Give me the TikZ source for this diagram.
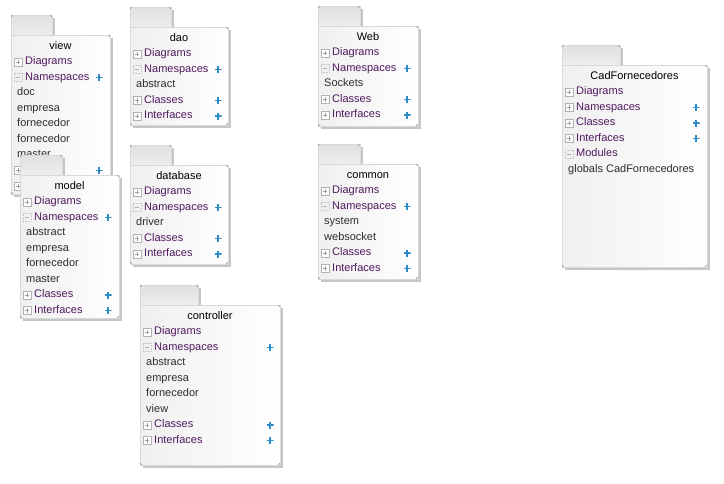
\documentclass[tikz,border=0pt]{standalone}
\usepackage{fontspec}
\setmainfont{Liberation Sans}
\definecolor{catcol}{RGB}{80,25,95}
\definecolor{itemcol}{RGB}{45,45,45}
\definecolor{pluscol}{RGB}{45,140,200}
\tikzset{
  txt/.style={inner sep=0pt, font=\fontsize{11}{13}\selectfont, anchor=west, text height=8pt, text depth=2.5pt},
  cattxt/.style={txt, text=catcol},
  itemtxt/.style={txt, text=itemcol},
  titletxt/.style={inner sep=0pt, font=\fontsize{11}{13}\selectfont, text=black, text height=8pt, text depth=2.5pt},
  iconbox/.style={draw=gray!60, fill=white, minimum size=8pt, inner sep=0pt, line width=0.6pt,
    path picture={\draw[gray!75, line width=0.6pt]
      ([xshift=1.8pt]path picture bounding box.west) -- ([xshift=-1.8pt]path picture bounding box.east)
      ([yshift=-1.8pt]path picture bounding box.north) -- ([yshift=1.8pt]path picture bounding box.south);}},
  expbox/.style={draw=gray!45, densely dotted, minimum size=8pt, inner sep=0pt, line width=0.6pt,
    path picture={\draw[gray!60, solid, line width=0.6pt]
      ([xshift=1.8pt]path picture bounding box.west) -- ([xshift=-1.8pt]path picture bounding box.east);}},
  plusmark/.style={minimum size=7pt, inner sep=0pt,
    path picture={\draw[pluscol, line width=1.7pt]
      (path picture bounding box.west) -- (path picture bounding box.east)
      (path picture bounding box.north) -- (path picture bounding box.south);}},
  pkgshadow/.style={fill=gray!45},
  pkgedge/.style={draw=gray!30, line width=0.4pt},
  cornermark/.style={draw=gray!80, line width=0.7pt}
}
% #1 id, #2 x, #3 top of body, #4 width, #5 height, #6 tab width, #7 title
\newcommand\pkg[7]{%
  \fill[pkgshadow] ({#2+#6},{#3-17}) rectangle ({#2+#6+3},{#3});
  \shade[top color=gray!24, bottom color=gray!14] (#2,{#3-20}) rectangle ({#2+#6},{#3});
  \draw[pkgedge] (#2,{#3}) -- (#2,{#3-20}) -- ({#2+#6},{#3-20}) -- ({#2+#6},{#3});
  \fill[pkgshadow] ({#2+3},{#3+#5}) rectangle ({#2+#4+3},{#3+#5+3});
  \fill[pkgshadow] ({#2+#4},{#3+3}) rectangle ({#2+#4+3},{#3+#5+3});
  \shade[left color=gray!12, right color=white] (#2,{#3}) rectangle ({#2+#4},{#3+#5});
  \draw[pkgedge] (#2,{#3}) rectangle ({#2+#4},{#3+#5});
  \draw[cornermark] (#2,{#3-18}) -- ({#2+1.5},{#3-20});
  \draw[cornermark] ({#2+#6-2},{#3-20}) -- ({#2+#6},{#3-18});
  \draw[cornermark] ({#2+#4-2},{#3}) -- ({#2+#4},{#3+2});
  \draw[cornermark] (#2,{#3+#5-2}) -- ({#2+2},{#3+#5});
  \draw[cornermark] ({#2+#4},{#3+#5-2}) -- ({#2+#4-2},{#3+#5});
  \node[titletxt] (#1-title) at ({#2+#4/2},{#3+12}) {#7};
}
% #1 name, #2 body x, #3 y, #4 label
\newcommand\rowcat[4]{%
  \node[iconbox] (#1-icon) at ({#2+7},{#3}) {};
  \node[cattxt] (#1) at ({#2+14},{#3}) {#4};}
\newcommand\rowexp[4]{%
  \node[expbox] (#1-icon) at ({#2+7},{#3}) {};
  \node[cattxt] (#1) at ({#2+14},{#3}) {#4};}
\newcommand\rowitem[4]{%
  \node[itemtxt] (#1) at ({#2+6},{#3}) {#4};}
\newcommand\rowplus[3]{%
  \node[plusmark] (#1) at ({#2},{#3}) {};}
\begin{document}
\begin{tikzpicture}[x=1pt,y=-1pt]
\fill[white] (0,0) rectangle (724,483);
\useasboundingbox (0,0) rectangle (724,483);

% ---- view ----
\pkg{view}{11}{35}{99}{159}{41}{view}
\rowcat{view-diag}{11}{62}{Diagrams}
\rowexp{view-ns}{11}{77.5}{Namespaces}\rowplus{view-nsp}{99}{77.5}
\rowitem{view-doc}{11}{93}{doc}
\rowitem{view-emp}{11}{108.5}{empresa}
\rowitem{view-forn}{11}{124}{fornecedor}
\rowitem{view-forn2}{11}{139.5}{fornecedor}
\rowitem{view-master}{11}{155}{master}
\rowcat{view-cls}{11}{170.5}{Classes}\rowplus{view-clsp}{99}{170.5}
\rowcat{view-int}{11}{186}{Interfaces}\rowplus{view-intp}{99}{186}

% ---- model ----
\pkg{model}{20}{175}{99}{143}{42}{model}
\rowcat{model-diag}{20}{202}{Diagrams}
\rowexp{model-ns}{20}{217.5}{Namespaces}\rowplus{model-nsp}{108}{217.5}
\rowitem{model-abs}{20}{233}{abstract}
\rowitem{model-emp}{20}{248.5}{empresa}
\rowitem{model-forn}{20}{264}{fornecedor}
\rowitem{model-master}{20}{279.5}{master}
\rowcat{model-cls}{20}{295}{Classes}\rowplus{model-clsp}{108}{295}
\rowcat{model-int}{20}{310.5}{Interfaces}\rowplus{model-intp}{108}{310.5}

% ---- dao ----
\pkg{dao}{130}{27}{98}{98}{41}{dao}
\rowcat{dao-diag}{130}{54}{Diagrams}
\rowexp{dao-ns}{130}{69.5}{Namespaces}\rowplus{dao-nsp}{218}{69.5}
\rowitem{dao-abs}{130}{85}{abstract}
\rowcat{dao-cls}{130}{100.5}{Classes}\rowplus{dao-clsp}{218}{100.5}
\rowcat{dao-int}{130}{116}{Interfaces}\rowplus{dao-intp}{218}{116}

% ---- database ----
\pkg{database}{130}{165}{98}{99}{41}{database}
\rowcat{db-diag}{130}{192}{Diagrams}
\rowexp{db-ns}{130}{207.5}{Namespaces}\rowplus{db-nsp}{218}{207.5}
\rowitem{db-drv}{130}{223}{driver}
\rowcat{db-cls}{130}{238.5}{Classes}\rowplus{db-clsp}{218}{238.5}
\rowcat{db-int}{130}{254}{Interfaces}\rowplus{db-intp}{218}{254}

% ---- controller ----
\pkg{controller}{140}{305}{140}{160}{58}{controller}
\rowcat{ctl-diag}{140}{332}{Diagrams}
\rowexp{ctl-ns}{140}{347.5}{Namespaces}\rowplus{ctl-nsp}{270}{347.5}
\rowitem{ctl-abs}{140}{363}{abstract}
\rowitem{ctl-emp}{140}{378.5}{empresa}
\rowitem{ctl-forn}{140}{394}{fornecedor}
\rowitem{ctl-view}{140}{409.5}{view}
\rowcat{ctl-cls}{140}{425}{Classes}\rowplus{ctl-clsp}{270}{425}
\rowcat{ctl-int}{140}{440.5}{Interfaces}\rowplus{ctl-intp}{270}{440.5}

% ---- Web ----
\pkg{web}{318}{26}{100}{100}{42}{Web}
\rowcat{web-diag}{318}{53}{Diagrams}
\rowexp{web-ns}{318}{68.5}{Namespaces}\rowplus{web-nsp}{407}{68.5}
\rowitem{web-sock}{318}{84}{Sockets}
\rowcat{web-cls}{318}{99.5}{Classes}\rowplus{web-clsp}{407}{99.5}
\rowcat{web-int}{318}{115}{Interfaces}\rowplus{web-intp}{407}{115}

% ---- common ----
\pkg{common}{318}{164}{100}{115}{42}{common}
\rowcat{com-diag}{318}{191}{Diagrams}
\rowexp{com-ns}{318}{206.5}{Namespaces}\rowplus{com-nsp}{407}{206.5}
\rowitem{com-sys}{318}{222}{system}
\rowitem{com-ws}{318}{237.5}{websocket}
\rowcat{com-cls}{318}{253}{Classes}\rowplus{com-clsp}{407}{253}
\rowcat{com-int}{318}{268.5}{Interfaces}\rowplus{com-intp}{407}{268.5}

% ---- CadFornecedores ----
\pkg{cad}{562}{65}{145}{202}{58}{CadFornecedores}
\rowcat{cad-diag}{562}{92}{Diagrams}
\rowcat{cad-ns}{562}{107.5}{Namespaces}\rowplus{cad-nsp}{696}{107.5}
\rowcat{cad-cls}{562}{123}{Classes}\rowplus{cad-clsp}{696}{123}
\rowcat{cad-int}{562}{138.5}{Interfaces}\rowplus{cad-intp}{696}{138.5}
\rowexp{cad-mod}{562}{154}{Modules}
\rowitem{cad-glob}{562}{169.5}{globals CadFornecedores}
\end{tikzpicture}
\end{document}
